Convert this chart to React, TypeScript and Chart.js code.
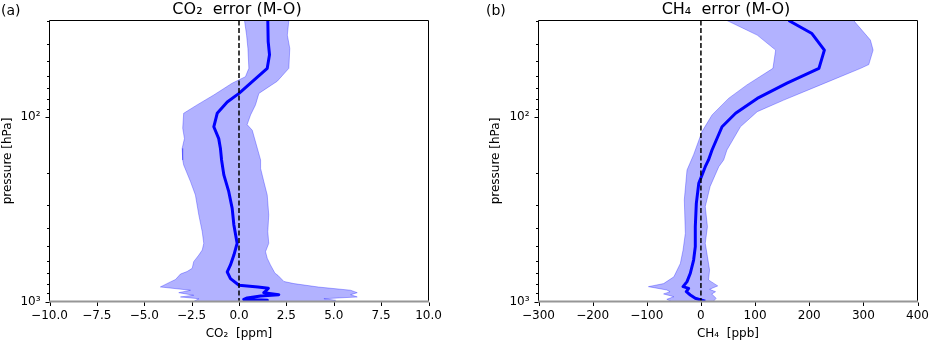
import React, { useEffect, useRef } from 'react';
import { Chart, registerables } from 'chart.js';

Chart.register(...registerables);

// ---------- DATA ----------
// CO2 panel (a): pressure levels [hPa] and values [ppm]
const co2MeanP = [30, 39, 46, 54.5, 65.6, 74.5, 83, 95.5, 113, 131, 148, 171, 206, 254, 313, 385, 484, 560, 634, 692, 752, 817, 835, 848, 870, 896, 918, 933, 957, 973, 985, 995];
const co2MeanV = [1.52, 1.54, 1.61, 1.49, 0.61, 0.0, -0.62, -1.15, -1.33, -1.07, -0.98, -0.92, -0.8, -0.54, -0.36, -0.27, -0.1, -0.27, -0.45, -0.62, -0.45, 0.0, 1.0, 1.55, 1.45, 1.31, 2.1, 1.14, 0.43, 0.25, 1.5, 0.2];

const co2LowP = [30, 36, 42.5, 54.5, 60.5, 65.6, 76, 86, 95.5, 115, 131, 148, 171, 182, 224, 265, 340, 419, 484, 526, 560, 608, 661, 688, 710, 760, 783, 834, 869, 896, 925, 945, 966, 1000];
const co2LowV = [0.29, 0.4, 0.47, 0.52, 0.34, -0.36, -1.33, -2.21, -2.92, -2.97, -2.88, -3.0, -2.97, -2.92, -2.56, -2.3, -2.12, -1.94, -1.86, -1.94, -2.12, -2.39, -2.47, -2.74, -3.09, -3.35, -3.62, -4.15, -2.56, -3.18, -2.39, -3.09, -2.12, -2.4];

const co2HighP = [30, 36, 42.5, 54.5, 64, 74.5, 86, 97.5, 110, 118, 171, 190, 224, 265, 340, 419, 484, 537, 583, 634, 703, 721, 779, 800, 835, 869, 896, 918, 945, 966, 985, 1000];
const co2HighV = [2.63, 2.55, 2.68, 2.63, 2.02, 1.05, 0.87, 0.61, 0.43, 0.7, 1.14, 1.14, 1.31, 1.49, 1.57, 1.52, 1.57, 1.4, 1.49, 1.66, 1.9, 2.05, 2.37, 2.9, 4.2, 5.89, 6.24, 5.89, 6.24, 4.48, 5.1, 5.0];

// CH4 panel (b): pressure levels [hPa] and values [ppb]
const ch4MeanP = [30, 35.3, 43.4, 54.5, 65.6, 79.3, 95.5, 113, 151, 171, 186, 229, 294, 393, 504, 596, 703, 780, 831, 849, 885, 922, 961, 981, 995];
const ch4MeanV = [162, 205, 228, 218, 159, 104, 64, 39, 20.5, 14, 8, -4, -8.5, -10.4, -10.4, -13.5, -19.6, -25.7, -33, -22.7, -27, -19.6, -10.4, 0, 8];

const ch4LowP = [30, 36, 43.4, 54.5, 67, 79.3, 97.5, 120, 160, 194, 281, 427, 526, 622, 735, 800, 831, 866, 885, 910, 942, 973, 1000];
const ch4LowV = [48, 104, 138, 133, 85, 51, 20.5, 2, -13.5, -25.7, -30.7, -28.8, -33, -38, -50, -69, -97, -63, -57, -69, -50, -63, -55];

const ch4HighP = [30, 38.3, 43.4, 52, 54.5, 67, 81, 93.6, 113, 151, 171, 186, 238, 306, 393, 484, 571, 676, 764, 823, 859, 885, 910, 961, 1000];
const ch4HighV = [282, 313, 318, 310, 295, 221, 153, 104, 73, 48, 42, 33, 17, 8, 12, 8, 12, 16, 14, 31, 16, 27, 20, 28, 23];

// Axis tick values
const pressureTicks = [30, 40, 50, 60, 70, 80, 90, 100, 200, 300, 400, 500, 600, 700, 800, 900, 1000];
const pressureMajor = [100, 1000];
const pressureLabels = ['10²', '10³'];
const pressureRange = [30, 1000];
const co2Range = [-10, 10];
const co2Step = 2.5;
const ch4Range = [-300, 400];
const ch4Step = 100;

// ---------- HELPERS ----------
const FONT = "'DejaVu Sans', sans-serif";
const toPts = (p: number[], v: number[]) => p.map((pp, i) => ({ x: v[i], y: pp }));
const bandShape = (lp: number[], lv: number[], hp: number[], hv: number[]) => [
  ...toPts(lp, lv),
  ...toPts(hp, hv).reverse(),
];
const fmtMinus = (s: string) => s.replace('-', '\u2212');

type PanelCfg = {
  width: number;
  left: number;
  padRight: number;
  xRange: number[];
  xStep: number;
  decimals: number;
  meanP: number[];
  meanV: number[];
  lowP: number[];
  lowV: number[];
  highP: number[];
  highV: number[];
  panel: string;
  panelX: number;
  title: string;
  xTitle: string;
  yTitleX: number;
};

const decorPlugin = (cfg: PanelCfg) => ({
  id: 'decor',
  afterDraw(chart: any) {
    const ctx = chart.ctx as CanvasRenderingContext2D;
    const a = chart.chartArea;
    const xs = chart.scales.x;
    const ys = chart.scales.y;
    ctx.save();
    // frame
    ctx.strokeStyle = '#000';
    ctx.lineWidth = 1;
    ctx.beginPath();
    ctx.moveTo(a.left, a.bottom);
    ctx.lineTo(a.left, a.top);
    ctx.lineTo(a.right, a.top);
    ctx.lineTo(a.right, a.bottom);
    ctx.stroke();
    ctx.strokeStyle = 'rgb(150,150,150)';
    ctx.lineWidth = 2;
    ctx.beginPath();
    ctx.moveTo(a.left - 0.5, a.bottom);
    ctx.lineTo(a.right + 0.5, a.bottom);
    ctx.stroke();
    // x ticks
    ctx.strokeStyle = '#000';
    ctx.lineWidth = 1;
    ctx.beginPath();
    xs.ticks.forEach((t: any) => {
      const px = Math.round(xs.getPixelForValue(t.value)) + 0.5;
      ctx.moveTo(px, a.bottom + 1);
      ctx.lineTo(px, a.bottom + 4.5);
    });
    // y ticks
    ys.ticks.forEach((t: any) => {
      const py = Math.round(ys.getPixelForValue(t.value)) + 0.5;
      const len = pressureMajor.includes(t.value) ? 4 : 2.5;
      ctx.moveTo(a.left, py);
      ctx.lineTo(a.left - len, py);
    });
    ctx.stroke();
    // texts
    ctx.fillStyle = '#000';
    ctx.textBaseline = 'alphabetic';
    ctx.font = `14px ${FONT}`;
    ctx.textAlign = 'left';
    ctx.fillText(cfg.panel, cfg.panelX, 14.8);
    ctx.font = `16px ${FONT}`;
    ctx.textAlign = 'center';
    ctx.fillText(cfg.title, (a.left + a.right) / 2 - 2, 13.6);
    ctx.font = `12px ${FONT}`;
    ctx.fillText(cfg.xTitle, (a.left + a.right) / 2, 336.5);
    ctx.translate(cfg.yTitleX, (a.top + a.bottom) / 2);
    ctx.rotate(-Math.PI / 2);
    ctx.fillText('pressure [hPa]', 0, 0);
    ctx.restore();
  },
});

function Panel({ cfg }: { cfg: PanelCfg }) {
  const ref = useRef<HTMLCanvasElement>(null);
  useEffect(() => {
    if (!ref.current) return;
    const chart = new Chart(ref.current, {
      type: 'line',
      data: {
        datasets: [
          {
            data: [{ x: 0, y: pressureRange[0] }, { x: 0, y: pressureRange[1] }],
            borderColor: '#000',
            borderWidth: 1.5,
            borderDash: [5, 2.5],
            pointRadius: 0,
            fill: false,
            order: 1,
          },
          {
            data: toPts(cfg.meanP, cfg.meanV),
            borderColor: '#0000ff',
            borderWidth: 3,
            pointRadius: 0,
            fill: false,
            borderJoinStyle: 'round',
            order: 2,
          },
          {
            data: bandShape(cfg.lowP, cfg.lowV, cfg.highP, cfg.highV),
            borderColor: 'rgba(0,0,255,0.3)',
            backgroundColor: 'rgba(0,0,255,0.3)',
            borderWidth: 1,
            pointRadius: 0,
            fill: 'shape',
            order: 3,
          },
        ] as any,
      },
      options: {
        animation: false,
        responsive: false,
        events: [],
        layout: { padding: { left: 0, right: cfg.padRight, top: 20.5, bottom: 0 } },
        plugins: { legend: { display: false }, tooltip: { enabled: false }, title: { display: false } },
        scales: {
          x: {
            type: 'linear',
            min: cfg.xRange[0],
            max: cfg.xRange[1],
            grid: { display: false, drawTicks: false },
            border: { display: false },
            ticks: {
              stepSize: cfg.xStep,
              padding: 7,
              color: '#000',
              font: { family: FONT, size: 12 },
              maxRotation: 0,
              autoSkip: false,
              callback: (v: any) => fmtMinus(Number(v).toFixed(cfg.decimals)),
            },
            afterFit: (s: any) => {
              s.height = 39.5;
              s.paddingLeft = 0;
              s.paddingRight = 0;
            },
          },
          y: {
            type: 'logarithmic',
            reverse: true,
            min: pressureRange[0],
            max: pressureRange[1],
            grid: { display: false, drawTicks: false },
            border: { display: false },
            afterBuildTicks: (s: any) => {
              s.ticks = pressureTicks.map((v) => ({ value: v }));
            },
            ticks: {
              padding: 9,
              color: '#000',
              autoSkip: false,
              font: { family: FONT, size: 12 },
              callback: (v: any) => {
                const i = pressureMajor.indexOf(Number(v));
                return i >= 0 ? pressureLabels[i] : '';
              },
            },
            afterFit: (s: any) => {
              s.width = cfg.left;
              s.paddingTop = 0;
              s.paddingBottom = 0;
            },
          },
        },
      } as any,
      plugins: [decorPlugin(cfg)],
    });
    return () => chart.destroy();
  }, [cfg]);
  return <canvas ref={ref} width={cfg.width} height={341} style={{ display: 'block', width: cfg.width, height: 341 }} />;
}

const co2Cfg: PanelCfg = {
  width: 470,
  left: 49.5,
  padRight: 41.5,
  xRange: co2Range,
  xStep: co2Step,
  decimals: 1,
  meanP: co2MeanP,
  meanV: co2MeanV,
  lowP: co2LowP,
  lowV: co2LowV,
  highP: co2HighP,
  highV: co2HighV,
  panel: '(a)',
  panelX: 1,
  title: 'CO\u2082  error (M-O)',
  xTitle: 'CO\u2082  [ppm]',
  yTitleX: 10.8,
};

const ch4Cfg: PanelCfg = {
  width: 459,
  left: 68.5,
  padRight: 11.5,
  xRange: ch4Range,
  xStep: ch4Step,
  decimals: 0,
  meanP: ch4MeanP,
  meanV: ch4MeanV,
  lowP: ch4LowP,
  lowV: ch4LowV,
  highP: ch4HighP,
  highV: ch4HighV,
  panel: '(b)',
  panelX: 16,
  title: 'CH\u2084  error (M-O)',
  xTitle: 'CH\u2084  [ppb]',
  yTitleX: 29.1,
};

export default function App() {
  return (
    <div style={{ position: 'absolute', left: 0, top: 0, width: 929, height: 341, background: '#fff', display: 'flex' }}>
      <Panel cfg={co2Cfg} />
      <Panel cfg={ch4Cfg} />
    </div>
  );
}
